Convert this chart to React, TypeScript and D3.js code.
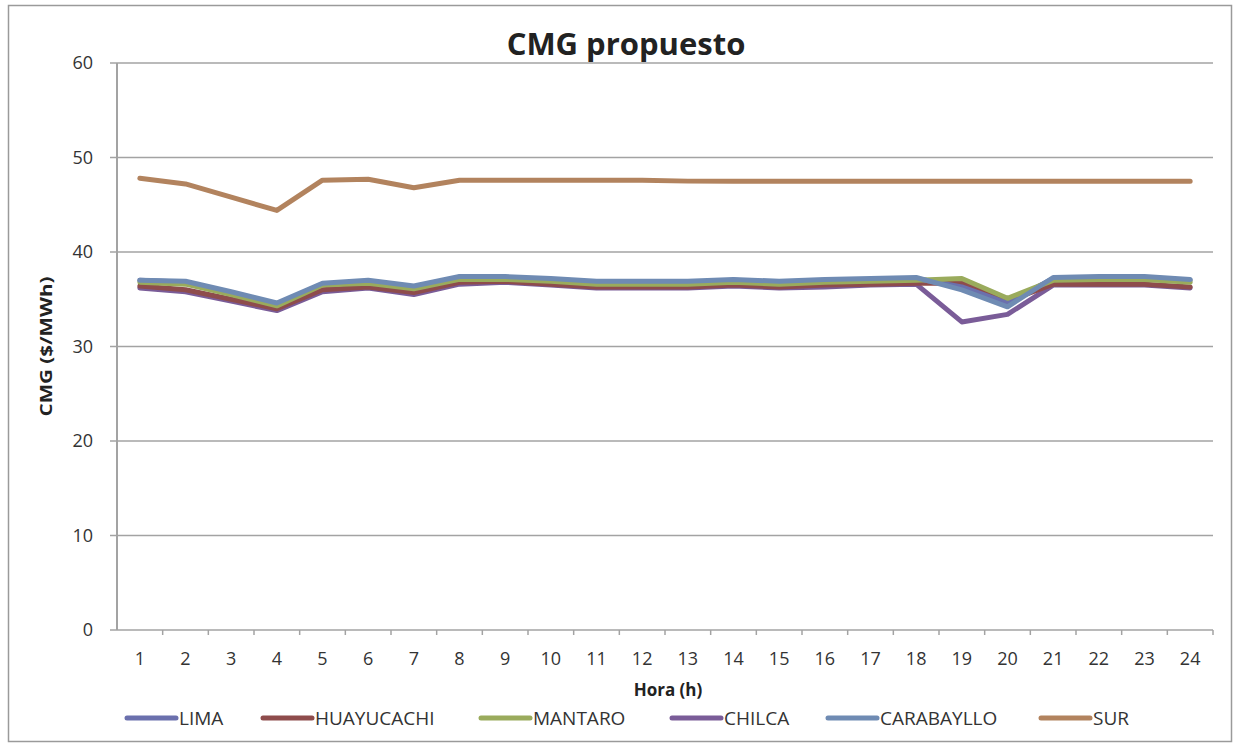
import * as d3 from "d3";

const hours = d3.range(1, 25).map(String);
const seriesNames = ["LIMA", "HUAYUCACHI", "MANTARO", "CHILCA", "CARABAYLLO", "SUR"];
const colors = ["#6b70ad", "#8e4c4c", "#9aab5c", "#7a5c98", "#6f8bb3", "#b2835e"];

const lima = [37.0, 36.8, 35.7, 34.5, 36.6, 36.9, 36.3, 37.3, 37.3, 37.1, 36.8, 36.8, 36.8, 37.0, 36.8, 37.0, 37.1, 37.2, 36.3, 34.6, 37.2, 37.3, 37.3, 37.0];
const huayucachi = [36.4, 36.0, 35.0, 34.0, 36.0, 36.3, 35.7, 36.8, 36.9, 36.6, 36.3, 36.3, 36.3, 36.5, 36.3, 36.5, 36.6, 36.7, 36.7, 34.8, 36.6, 36.6, 36.6, 36.3];
const mantaro = [36.8, 36.6, 35.5, 34.3, 36.5, 36.7, 36.1, 37.1, 37.1, 36.9, 36.6, 36.6, 36.6, 36.8, 36.6, 36.8, 36.9, 37.0, 37.2, 35.1, 37.0, 37.1, 37.1, 36.8];
const chilca = [36.2, 35.8, 34.8, 33.8, 35.8, 36.2, 35.5, 36.6, 36.8, 36.5, 36.2, 36.2, 36.2, 36.4, 36.2, 36.3, 36.5, 36.6, 32.6, 33.4, 36.5, 36.5, 36.5, 36.2];
const carabayllo = [37.0, 36.9, 35.8, 34.6, 36.7, 37.0, 36.4, 37.4, 37.4, 37.2, 36.9, 36.9, 36.9, 37.1, 36.9, 37.1, 37.2, 37.3, 36.0, 34.2, 37.3, 37.4, 37.4, 37.1];
const sur = [47.8, 47.2, 45.8, 44.4, 47.6, 47.7, 46.8, 47.6, 47.6, 47.6, 47.6, 47.6, 47.5, 47.5, 47.5, 47.5, 47.5, 47.5, 47.5, 47.5, 47.5, 47.5, 47.5, 47.5];
const yTicks = [0, 10, 20, 30, 40, 50, 60];

const allSeries = [lima, huayucachi, mantaro, chilca, carabayllo, sur];
// draw order so the blue line ends on top of the lower group, purple at the bottom edge
const drawOrder = [3, 1, 0, 2, 4, 5];
const legendX = [127, 263, 481, 672, 828, 1041];

const App = () => {
    const width = 1241;
    const height = 746;
    const left = 117;
    const right = 1213;
    const top = 63;
    const bottom = 630;
    const font = "'Open Sans', 'Liberation Sans', sans-serif";

    const x = d3.scaleBand().domain(hours).range([left, right]);
    const y = d3.scaleLinear().domain([0, 60]).range([bottom, top]);
    const line = d3.line<number>().x((_, i) => x(hours[i])! + x.bandwidth() / 2).y(d => y(d));

    return (
        <svg width={width} height={height} style={{ position: "absolute", left: 0, top: 0, background: "#fff" }}>
            <rect x={8.5} y={5.5} width={1223} height={736} fill="#fff" stroke="#9a9a9a" strokeWidth={1.5} />
            <text x={626} y={55} textAnchor="middle" fontFamily={font} fontWeight="bold" fontSize={31} fill="#222">CMG propuesto</text>
            <g>
                {yTicks.map(t => (
                    <g key={t}>
                        <line x1={left - 7} x2={right} y1={y(t)} y2={y(t)} stroke="#a3a3a3" strokeWidth={1.5} />
                        <text x={93} y={y(t) + 6} textAnchor="end" fontFamily={font} fontSize={18} fill="#333">{t}</text>
                    </g>
                ))}
            </g>
            <line x1={left} x2={left} y1={top} y2={bottom} stroke="#a3a3a3" strokeWidth={2} />
            <g>
                {hours.map((h, i) => (
                    <g key={h}>
                        <line x1={x(h)! + x.bandwidth()} x2={x(h)! + x.bandwidth()} y1={bottom} y2={bottom + 5} stroke="#a3a3a3" strokeWidth={1.5} />
                        <text x={x(h)! + x.bandwidth() / 2} y={bottom + 35} textAnchor="middle" fontFamily={font} fontSize={18} fill="#333">{h}</text>
                    </g>
                ))}
            </g>
            <text transform={`translate(52,${(top + bottom) / 2}) rotate(-90)`} textAnchor="middle" fontFamily={font} fontWeight="bold" fontSize={16} textLength={140} lengthAdjust="spacingAndGlyphs" fill="#222">CMG ($/MWh)</text>
            <text x={668} y={696} textAnchor="middle" fontFamily={font} fontWeight="bold" fontSize={17} fill="#222">Hora (h)</text>
            <g>
                {drawOrder.map(k => (
                    <path key={k} d={line(allSeries[k]) || ""} fill="none" stroke={colors[k]} strokeWidth={5} strokeLinejoin="round" strokeLinecap="round" />
                ))}
            </g>
            <g>
                {seriesNames.map((name, i) => (
                    <g key={name}>
                        <line x1={legendX[i]} x2={legendX[i] + 49} y1={718} y2={718} stroke={colors[i]} strokeWidth={5} strokeLinecap="round" />
                        <text x={legendX[i] + 52} y={725} fontFamily={font} fontSize={19} fill="#333">{name}</text>
                    </g>
                ))}
            </g>
        </svg>
    );
};

export default App;
